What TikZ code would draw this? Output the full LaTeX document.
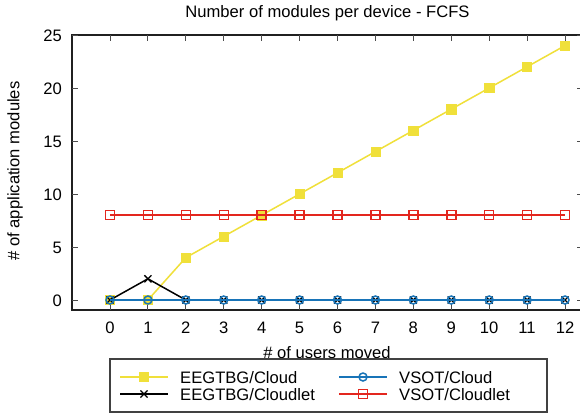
\documentclass[tikz,border=0pt]{standalone}
\usepackage{fontspec}
\setmainfont{Liberation Sans}
\usetikzlibrary{plotmarks}
\definecolor{cyel}{HTML}{F0E03A}
\definecolor{cblu}{HTML}{1874B8}
\definecolor{cred}{HTML}{E3261E}
\definecolor{frame}{HTML}{202020}
\begin{document}
\begin{tikzpicture}[x=1pt,y=-1pt,
  font=\fontsize{16.6}{19}\selectfont,
  axisline/.style={frame,line width=1.4pt},
  tickline/.style={frame!80,line width=1pt},
  series/.style={line width=1.5pt},
  lbl/.style={inner sep=0pt}]
\useasboundingbox (0,0) rectangle (580,415);
\fill[white] (0,0) rectangle (580,415);

% title and axis labels
\node[lbl,anchor=base] (title) at (327.5,17) {Number of modules per device - FCFS};
\node[lbl,rotate=90] (ylab) at (15,171) {\# of application modules};
\node[lbl,anchor=base] (xlab) at (327,358) {\# of users moved};

% plot frame
\coordinate (tl) at (72,35);
\coordinate (bl) at (72,310);
\coordinate (tr) at (583,35);
\coordinate (br) at (583,310);
\draw[axisline] (tr) -- (tl) -- (bl) -- (br);

% y ticks and labels
\foreach \v in {0,5,...,25}{
  \pgfmathsetmacro\yy{300-10.6*\v}
  \draw[tickline] (72,\yy) -- (78,\yy);
  \draw[tickline] (577,\yy) -- (583,\yy);
  \node[lbl,anchor=base east] (yt\v) at (62,\yy+6) {\v};
}
% x ticks and labels
\foreach \i in {0,...,12}{
  \pgfmathsetmacro\xx{110+37.917*\i}
  \draw[tickline] (\xx,310) -- (\xx,304);
  \draw[tickline] (\xx,35) -- (\xx,41);
  \node[lbl,anchor=base] (xt\i) at (\xx,333.5) {\i};
}

% data series in data units (y axis points up)
\begin{scope}[shift={(110,300)},x=37.917pt,y=10.6pt]
  \draw[series,cyel] plot[mark=square*,mark size=4.6pt,
      mark options={fill=cyel,draw=cyel,line width=0.5pt}]
    coordinates {(0,0)(1,0)(2,4)(3,6)(4,8)(5,10)(6,12)(7,14)(8,16)(9,18)(10,20)(11,22)(12,24)};
  \draw[series,black] plot[mark=x,mark size=5pt,mark options={line width=1.3pt}]
    coordinates {(0,0)(1,2)(2,0)(3,0)(4,0)(5,0)(6,0)(7,0)(8,0)(9,0)(10,0)(11,0)(12,0)};
  \draw[series,cblu] plot[mark=o,mark size=4pt,mark options={line width=1.5pt}]
    coordinates {(0,0)(1,0)(2,0)(3,0)(4,0)(5,0)(6,0)(7,0)(8,0)(9,0)(10,0)(11,0)(12,0)};
  \draw[series,cred] plot[mark=square,mark size=4.5pt,mark options={line width=1.5pt}]
    coordinates {(0,8)(1,8)(2,8)(3,8)(4,8)(5,8)(6,8)(7,8)(8,8)(9,8)(10,8)(11,8)(12,8)};
\end{scope}

% legend
\node[draw=frame!85,line width=1.4pt,minimum width=437pt,minimum height=53pt,inner sep=0pt]
  (legend) at (328.5,385.5) {};
\draw[series,cyel] (120,377) -- (168,377);
\draw[cyel] plot[mark=square*,mark size=4.6pt,mark options={fill=cyel,draw=cyel}] coordinates {(144,377)};
\node[lbl,anchor=base west] (l1) at (180,383) {EEGTBG/Cloud};
\draw[series,black] (120,394) -- (168,394);
\draw[black] plot[mark=x,mark size=5pt,mark options={line width=1.3pt}] coordinates {(144,394)};
\node[lbl,anchor=base west] (l2) at (180,400) {EEGTBG/Cloudlet};
\draw[series,cblu] (339,377) -- (387,377);
\draw[cblu] plot[mark=o,mark size=4pt,mark options={line width=1.5pt}] coordinates {(363,377)};
\node[lbl,anchor=base west] (l3) at (399,383) {VSOT/Cloud};
\draw[series,cred] (339,394) -- (387,394);
\draw[cred] plot[mark=square,mark size=4.5pt,mark options={line width=1.5pt}] coordinates {(363,394)};
\node[lbl,anchor=base west] (l4) at (399,400) {VSOT/Cloudlet};
\end{tikzpicture}
\end{document}
